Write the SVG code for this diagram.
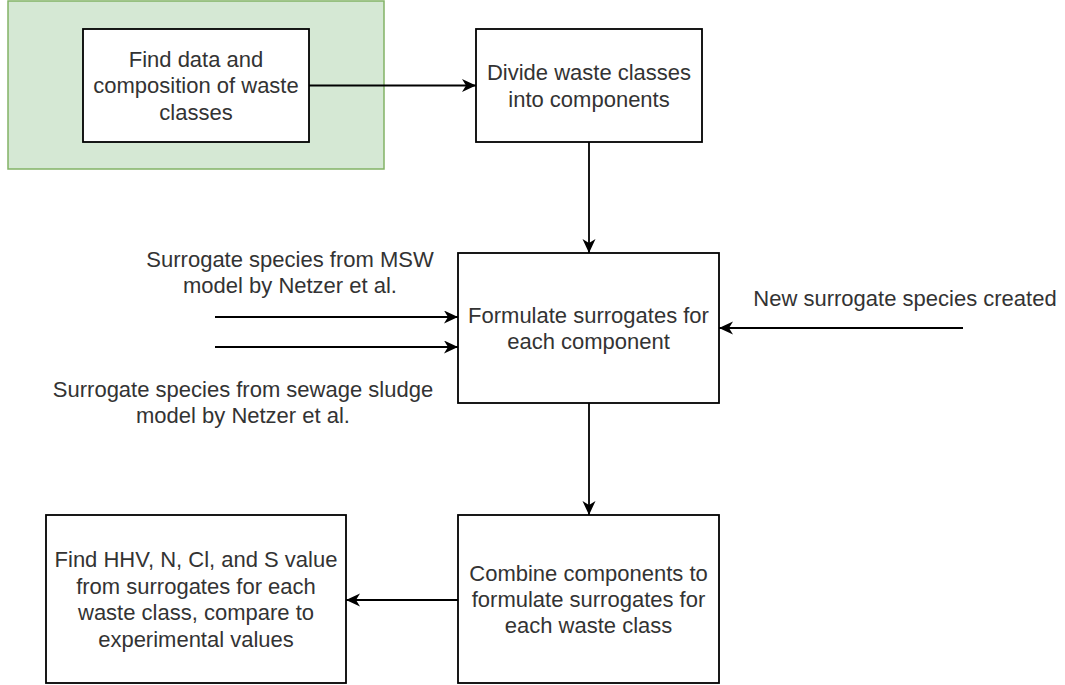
<svg xmlns="http://www.w3.org/2000/svg" width="1065" height="685" viewBox="0 0 1065 685">
  <style>
    .box { fill: #ffffff; stroke: #000000; stroke-width: 1.8; }
    .group { fill: #d5e8d4; stroke: #82b366; stroke-width: 1.5; }
    .lbl { font-family: "Liberation Sans", Arial, Helvetica, sans-serif; font-size: 22px; fill: #333333; text-anchor: middle; }
    .edge { fill: none; stroke: #000000; stroke-width: 1.8; marker-end: url(#arrow); }
  </style>
  <defs>
    <marker id="arrow" markerUnits="userSpaceOnUse" markerWidth="15" markerHeight="14" refX="14" refY="6.5" orient="auto">
      <path d="M0,0 L14,6.5 L0,13 L4,6.5 z" fill="#000000"/>
    </marker>
  </defs>

  <rect width="1065" height="685" fill="#ffffff"/>

  <!-- highlighted starting stage -->
  <g id="start-group">
    <rect class="group" x="8" y="1" width="376" height="168"/>
  </g>

  <g id="find-data">
    <rect class="box" x="83" y="29" width="226" height="113"/>
    <text class="lbl" x="196" y="67">Find data and</text>
    <text class="lbl" x="196" y="93.4">composition of waste</text>
    <text class="lbl" x="196" y="119.8">classes</text>
  </g>

  <g id="divide">
    <rect class="box" x="476" y="29" width="226" height="113"/>
    <text class="lbl" x="589" y="80.2">Divide waste classes</text>
    <text class="lbl" x="589" y="106.6">into components</text>
  </g>

  <g id="formulate">
    <rect class="box" x="458" y="253" width="261" height="150"/>
    <text class="lbl" x="588.5" y="322.7">Formulate surrogates for</text>
    <text class="lbl" x="588.5" y="349.1">each component</text>
  </g>

  <g id="combine">
    <rect class="box" x="458" y="515" width="261" height="168"/>
    <text class="lbl" x="588.5" y="580.5">Combine components to</text>
    <text class="lbl" x="588.5" y="606.9">formulate surrogates for</text>
    <text class="lbl" x="588.5" y="633.3">each waste class</text>
  </g>

  <g id="evaluate">
    <rect class="box" x="46" y="515" width="300" height="168"/>
    <text class="lbl" x="196" y="567.3">Find HHV, N, Cl, and S value</text>
    <text class="lbl" x="196" y="593.7">from surrogates for each</text>
    <text class="lbl" x="196" y="620.1">waste class, compare to</text>
    <text class="lbl" x="196" y="646.5">experimental values</text>
  </g>

  <!-- free-standing input labels -->
  <g id="msw-label">
    <text class="lbl" x="290" y="267">Surrogate species from MSW</text>
    <text class="lbl" x="290" y="293">model by Netzer et al.</text>
  </g>
  <g id="sludge-label">
    <text class="lbl" x="243" y="397">Surrogate species from sewage sludge</text>
    <text class="lbl" x="243" y="423">model by Netzer et al.</text>
  </g>
  <g id="new-species-label">
    <text class="lbl" x="905" y="306">New surrogate species created</text>
  </g>

  <g id="connectors">
    <line class="edge" x1="309" y1="85.5" x2="476" y2="85.5"/>
    <line class="edge" x1="589" y1="142" x2="589" y2="253"/>
    <line class="edge" x1="215" y1="317" x2="458" y2="317"/>
    <line class="edge" x1="215" y1="347" x2="458" y2="347"/>
    <line class="edge" x1="963" y1="328" x2="719" y2="328"/>
    <line class="edge" x1="589" y1="403" x2="589" y2="515"/>
    <line class="edge" x1="458" y1="600" x2="346" y2="600"/>
  </g>
</svg>
